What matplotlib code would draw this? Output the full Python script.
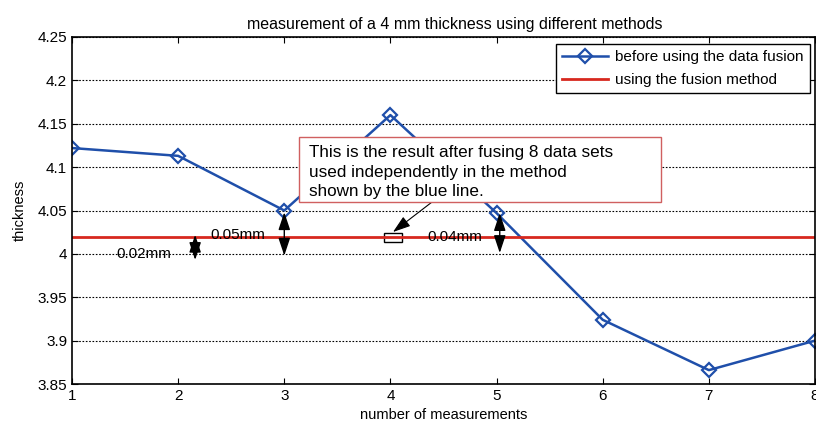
import matplotlib
matplotlib.use("Agg")
import matplotlib.pyplot as plt
from matplotlib.patches import Rectangle

plt.rcParams['font.family'] = ['Liberation Sans', 'DejaVu Sans']

# measured thickness for each run, and the fused result
measurements = [1, 2, 3, 4, 5, 6, 7, 8]
thickness = [4.122, 4.113, 4.050, 4.160, 4.047, 3.924, 3.866, 3.900]
fused = 4.02

# double arrows showing the gap to the fused value
gap_x = [2.16, 3.0, 5.03]
gap_lo = [3.993, 3.998, 4.001]
gap_hi = [4.022, 4.048, 4.047]
gap_labels = ["0.02mm", "0.05mm", "0.04mm"]
gap_label_xy = [(1.42, 4.0), (2.3, 4.022), (4.35, 4.019)]

note = ('This is the result after fusing 8 data sets\n'
        'used independently in the method\n'
        'shown by the blue line.')

fig = plt.figure(figsize=(8.16, 4.28), dpi=100)
ax = fig.add_axes([72/816, 44/428, 743/816, 347/428])

blue = '#1f4faa'
red = '#d7281e'
ax.plot(measurements, thickness, color=blue, lw=1.8, marker='D', ms=7,
        mfc='none', mec=blue, mew=1.6, label='before using the data fusion')
ax.axhline(fused, color=red, lw=2, label='using the fusion method')

ax.set_xlim(1, 8)
ax.set_ylim(3.85, 4.25)
ax.set_yticks([3.85, 3.9, 3.95, 4.0, 4.05, 4.1, 4.15, 4.2, 4.25])
ax.set_yticklabels(['3.85', '3.9', '3.95', '4', '4.05', '4.1', '4.15', '4.2', '4.25'])
ax.yaxis.grid(True, linestyle=(0, (1.5, 1.5)), color='k', lw=0.8)
ax.tick_params(direction='in', length=4, labelsize=11, top=True, right=True)
for s in ax.spines.values():
    s.set_linewidth(1.2)

ax.set_title('measurement of a 4 mm thickness using different methods',
             fontsize=11.5, x=0.515)
ax.set_xlabel('number of measurements', fontsize=10.5, labelpad=4)
ax.set_ylabel('thickness', fontsize=10.5, labelpad=8)

for x, lo, hi in zip(gap_x, gap_lo, gap_hi):
    ax.annotate('', xy=(x, lo), xytext=(x, hi),
                arrowprops=dict(arrowstyle='<|-|>,head_length=0.6,head_width=0.2',
                                color='k', lw=1, mutation_scale=18,
                                shrinkA=0, shrinkB=0))
for txt, (tx, ty) in zip(gap_labels, gap_label_xy):
    ax.text(tx, ty, txt, fontsize=11, va='center')

# note box with arrow pointing at the fused value
ax.add_patch(Rectangle((3.139, 4.0598), 3.41, 0.0749, fc='white',
                       ec='#d06060', lw=1, zorder=4))
ax.text(3.233, 4.0665, note, fontsize=12.3, va='baseline', ha='left',
        linespacing=1.38, zorder=5)
ax.add_patch(Rectangle((3.94, 4.0137), 0.169, 0.0103, fill=False, ec='k', lw=1))
ax.annotate('', xy=(4.024, 4.0252), xytext=(4.392, 4.0598),
            arrowprops=dict(arrowstyle='-|>,head_length=0.6,head_width=0.2',
                            color='k', lw=0.8, mutation_scale=18,
                            shrinkA=0, shrinkB=0))

ax.legend(loc='upper right', bbox_to_anchor=(738/743, 1 - 7/347),
          fontsize=11, frameon=True, fancybox=False, edgecolor='k',
          framealpha=1, borderaxespad=0, handlelength=3.0,
          handletextpad=0.5, labelspacing=0.6)

fig.savefig('out.png', dpi=100)
